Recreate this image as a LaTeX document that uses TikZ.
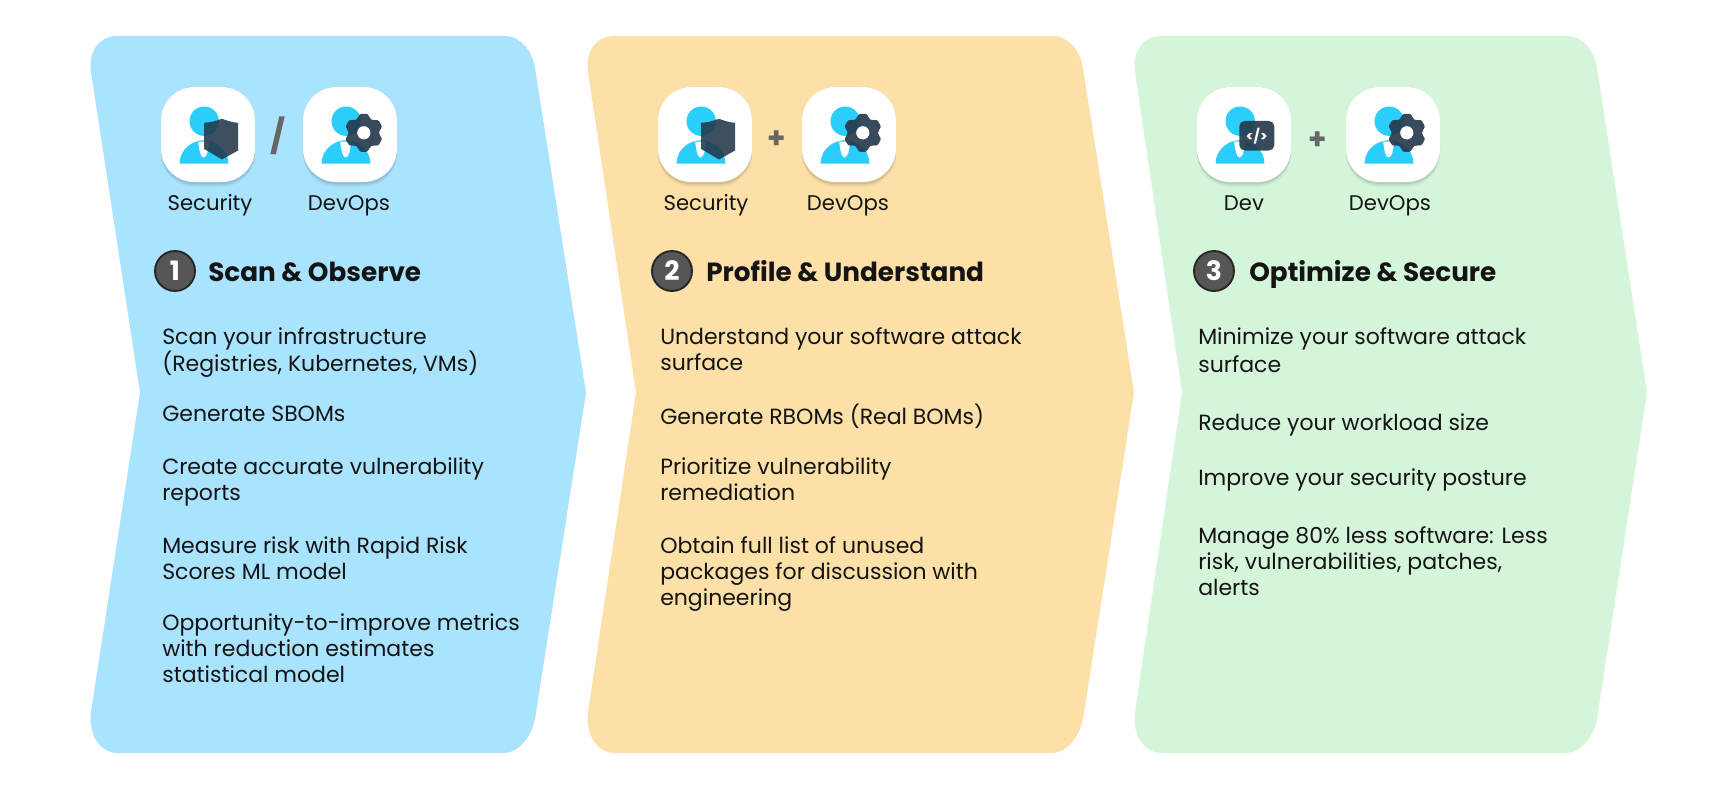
\documentclass[tikz,border=0pt]{standalone}
\usepackage{fontspec}
\setmainfont{Poppins}
\definecolor{cblue}{HTML}{AAE3FE}
\definecolor{corange}{HTML}{FCE0A8}
\definecolor{cgreen}{HTML}{D5F5DB}
\definecolor{cperson}{HTML}{2BCDFB}
\definecolor{cdark}{HTML}{24384A}
\definecolor{cink}{HTML}{141414}
\definecolor{cnum}{HTML}{565656}
\definecolor{cop}{HTML}{666666}
\newcommand{\chevron}[5]{% colour, left x, notch x, right x, tip x
  \fill[#1] (#3,392.5)
    -- ({#2+5},72) .. controls ({#2+2},52) and ({#2+13},36) .. ({#2+31},36)
    -- ({#4-24},36) .. controls ({#4-11},36) and ({#4+2.5},50) .. ({#4+5},68)
    -- (#5,392.5)
    -- ({#4+5.5},716) .. controls ({#4+2.5},737) and ({#4-12},753) .. ({#4-26},753)
    -- ({#2+32},753) .. controls ({#2+14},753) and ({#2+2},735) .. ({#2+5},712)
    -- cycle;}
\tikzset{
  x=0.75pt,y=-0.75pt,
  body/.style={anchor=north west,inner sep=0pt,align=left,text=cink,execute at begin node=\strut,font={\fontsize{16.5}{19.6}\selectfont}},
  role/.style={anchor=base,inner sep=0pt,text=cink,font={\fontsize{15.9}{18}\selectfont}},
  title/.style={anchor=base west,inner sep=0pt,text=cink,font={\fontsize{19.7}{24}\selectfont\bfseries}},
  numdot/.style={circle,draw=black!85,line width=1.4pt,fill=cnum,minimum size=30pt,inner sep=0pt,text=white,font={\fontsize{20}{22}\selectfont\bfseries}},
  oper/.style={anchor=center,inner sep=0pt,text=cop,font={\fontsize{22}{26}\selectfont\bfseries}},
  pics/person/.style={code={
    \foreach \s/\o in {5/.04,3.5/.05,2/.07}{
      \fill[black,opacity=\o,rounded corners=25pt] (-47,-47.5) rectangle (47,47.5+\s);}
    \fill[white,rounded corners=25pt] (-47,-47.5) rectangle (47,47.5);
    \fill[cperson] (-3.8,-13.3) circle[radius=14.7];
    \fill[cperson] (-28.5,29) .. controls (-28,14) and (-15,5.7) .. (-4,5.7) .. controls (7,5.7) and (20,14) .. (20.5,29) -- cycle;
    \fill[white] (-9.8,7.2) -- (0.8,7.2) .. controls (0.5,15) and (-1,23) .. (-4.5,23) .. controls (-7.5,23) and (-9,15) .. (-9.8,7.2) -- cycle;
  }},
  pics/shield/.style={code={
    \fill[cdark,opacity=.88] (14,-15.7) .. controls (8,-13.5) and (2,-12) .. (-3.8,-11.7) -- (-3.8,14.5) -- (14,25) -- (30,16) -- (30,-11.7) .. controls (25,-12) and (20,-13.5) .. (14,-15.7) -- cycle;
  }},
  pics/gear/.style={code={
    \fill[cdark,opacity=.9,rounded corners=1.6] (77:19.5)
      \foreach \a in {90,150,210,270,330,390}{ -- (\a-13:19.5) -- (\a+13:19.5) -- (\a+21:15.5) -- (\a+39:15.5)} -- cycle;
    \fill[white] (0,0) circle[radius=6.6];
  }},
  pics/codebox/.style={code={
    \fill[cdark,opacity=.9,rounded corners=4pt] (-4.7,-13.5) rectangle (30.3,16);
    \node (codetext) at (12.8,1.2) [inner sep=0pt,text=white,font={\fontsize{10.5}{11}\selectfont\bfseries}] {</>};
  }},
}
\begin{document}
\begin{tikzpicture}
\useasboundingbox (0,0) rectangle (1736,792);
\fill[white] (0,0) rectangle (1736,792);
% chevrons
\chevron{cblue}{86}{140}{530}{586}
\chevron{corange}{583}{636}{1078}{1134}
\chevron{cgreen}{1130}{1182}{1592}{1647}
% column 1
\pic at (208,134.5) {person};
\pic at (208,134.5) {shield};
\pic at (350,134.5) {person};
\pic at (363.8,132.8) {gear};
\node[oper,font={\fontsize{25}{28}\selectfont\bfseries}] (slash) at (278,136) {/};
\node[role] (r11) at (210,210) {Security};
\node[role] (r12) at (349,210) {DevOps};
\node[numdot] (n1) at (175,271) {1};
\node[title] (t1) at (208,281) {Scan \& Observe};
\node[body] (a1) at (162,327) {Scan your infrastructure\\(Registries, Kubernetes, VMs)};
\node[body] (a2) at (162,403) {Generate SBOMs};
\node[body] (a3) at (162,457) {Create accurate vulnerability\\reports};
\node[body] (a4) at (162,536) {Measure risk with Rapid Risk\\Scores ML model};
\node[body] (a5) at (162,613) {Opportunity-to-improve metrics\\with reduction estimates\\statistical model};
% column 2
\pic at (705,134.5) {person};
\pic at (705,134.5) {shield};
\pic at (849,134.5) {person};
\pic at (862.8,132.8) {gear};
\node[oper] (plus2) at (777,140) {+};
\node[role] (r21) at (706,210) {Security};
\node[role] (r22) at (848,210) {DevOps};
\node[numdot] (n2) at (672,271) {2};
\node[title] (t2) at (706,281) {Profile \& Understand};
\node[body] (b1) at (660,327) {Understand your software attack\\surface};
\node[body] (b2) at (660,404) {Generate RBOMs (Real BOMs)};
\node[body] (b3) at (660,457) {Prioritize vulnerability\\remediation};
\node[body] (b4) at (660,536) {Obtain full list of unused\\packages for discussion with\\engineering};
% column 3
\pic at (1244,134.5) {person};
\pic at (1244,134.5) {codebox};
\pic at (1393,134.5) {person};
\pic at (1406.8,132.8) {gear};
\node[oper] (plus3) at (1318,141) {+};
\node[role] (r31) at (1244,210) {Dev};
\node[role] (r32) at (1390,210) {DevOps};
\node[numdot] (n3) at (1214,271) {3};
\node[title] (t3) at (1249,281) {Optimize \& Secure};
\node[body] (c1) at (1198,327) {Minimize your software attack\\[1.5pt]surface};
\node[body] (c2) at (1198,412) {Reduce your workload size};
\node[body] (c3) at (1198,467) {Improve your security posture};
\node[body] (c4) at (1198,526) {Manage 80\% less software: Less\\risk, vulnerabilities, patches,\\alerts};
\end{tikzpicture}
\end{document}
